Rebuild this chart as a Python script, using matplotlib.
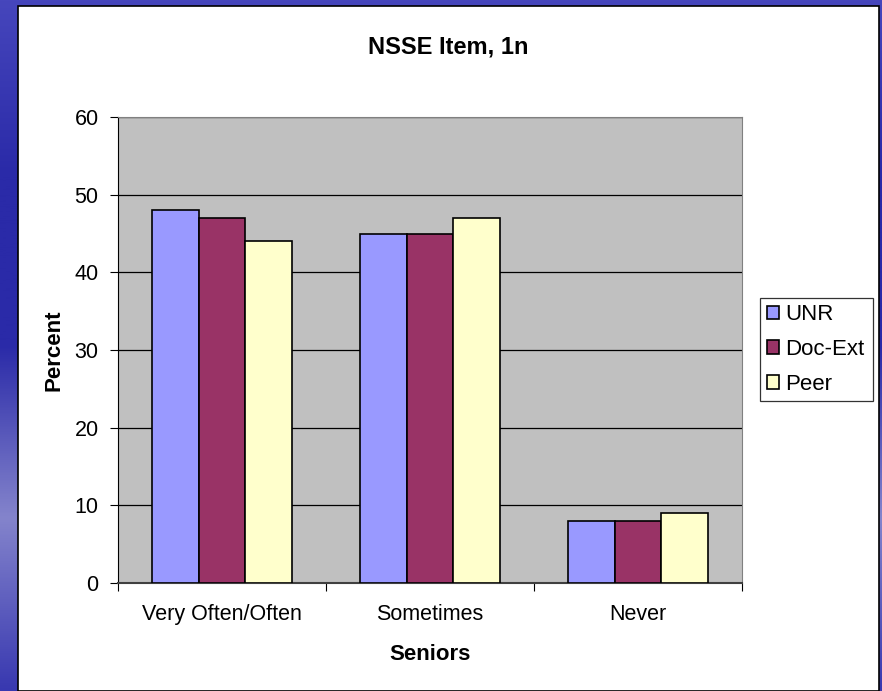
import matplotlib.pyplot as plt
import matplotlib.patches as patches
import numpy as np

plt.rcParams['font.family'] = ['Liberation Sans', 'DejaVu Sans']

categories = ["Very Often/Often", "Sometimes", "Never"]
series = ["UNR", "Doc-Ext", "Peer"]
unr = [48, 45, 8]
doc_ext = [47, 45, 8]
peer = [44, 47, 9]
colors = ["#9999FF", "#993366", "#FFFFCC"]

fig = plt.figure(figsize=(8.82, 6.91), dpi=100)

# slide background gradient
bg = fig.add_axes([0, 0, 1, 1], zorder=-10)
grad = np.linspace(0, 1, 256).reshape(-1, 1)
bg.imshow(grad, aspect='auto', cmap=plt.matplotlib.colors.LinearSegmentedColormap.from_list(
    'slide', ["#4646BC", "#2A2AA8", "#2A2AA8", "#8484CC", "#3838B0"]), extent=[0, 1, 0, 1])
bg.set_axis_off()

panel = patches.Rectangle((18 / 882, 0), (879 - 18) / 882, (685 - 0) / 691,
                          transform=fig.transFigure, facecolor='white',
                          edgecolor='black', linewidth=1.2, zorder=-5)
fig.patches.append(panel)

ax = fig.add_axes([118 / 882, 108 / 691, (742 - 118) / 882, (583 - 117) / 691])
ax.set_facecolor('#C0C0C0')

x = np.arange(len(categories))
w = 0.2236
for i, (vals, name) in enumerate(zip([unr, doc_ext, peer], series)):
    ax.bar(x + (i - 1) * w, vals, w, color=colors[i], edgecolor='black',
           linewidth=1.2, label=name, zorder=3)

ax.set_xlim(-0.5, 2.5)
ax.set_ylim(0, 60)
ax.set_yticks(range(0, 61, 10))
ax.yaxis.grid(True, color='black', linewidth=0.9, zorder=1)
ax.set_xticks([-0.5, 0.5, 1.5, 2.5], minor=False)
ax.set_xticklabels([])
ax.set_xticks(x, minor=True)
ax.set_xticklabels(categories, minor=True, fontsize=15.5)
ax.tick_params(axis='x', which='minor', length=0, pad=15)
ax.tick_params(axis='x', which='major', length=6, direction='out', color='black')
ax.tick_params(axis='y', labelsize=15.5, length=6, direction='out', pad=8)

for s in ['top', 'right']:
    ax.spines[s].set_color('#808080')
ax.spines['left'].set_color('black')
ax.spines['bottom'].set_color('#404040')
ax.spines['bottom'].set_linewidth(1.5)

fig.text(448 / 882, 1 - 47 / 691, "NSSE Item, 1n", ha='center', va='center',
         fontsize=17, fontweight='bold')
fig.text(430 / 882, 1 - 655 / 691, "Seniors", ha='center', va='center',
         fontsize=16, fontweight='bold')
fig.text(54 / 882, 1 - 350 / 691, "Percent", ha='center', va='center',
         fontsize=16, fontweight='bold', rotation=90)

leg = ax.legend(loc='center left', bbox_to_anchor=(760 / 882, 1 - 403 / 691, 113 / 882, 107 / 691),
                bbox_transform=fig.transFigure, mode='expand', fontsize=16,
                frameon=True, fancybox=False, edgecolor='black', handlelength=0.55,
                handleheight=0.55, handletextpad=0.3, borderaxespad=0, labelspacing=0.62,
                borderpad=0.3)
leg.get_frame().set_linewidth(0.9)

fig.savefig("out.png", dpi=100)
